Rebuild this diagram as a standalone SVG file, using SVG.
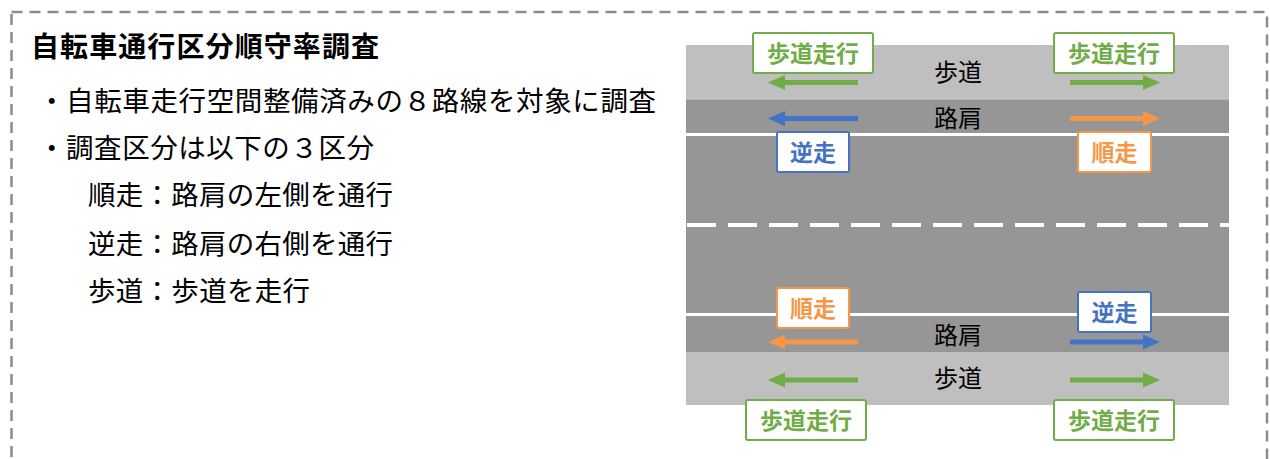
<svg xmlns="http://www.w3.org/2000/svg" width="1270" height="459" viewBox="0 0 1270 459">
  <defs>
    <style>
      text { font-family: "Noto Sans CJK JP", "Noto Sans", sans-serif; }
      .body { font-size: 27.5px; fill: #000; }
      .title { font-size: 28px; font-weight: 700; fill: #000; }
      .road { font-size: 24px; fill: #000; text-anchor: middle; }
      .lbl { font-size: 23px; font-weight: 700; text-anchor: middle; }
      .box { fill: #fff; stroke-width: 2; }
      .g { stroke: #70ad47; }
      .b { stroke: #4472c4; }
      .o { stroke: #f79646; }
      .tg { fill: #70ad47; }
      .tb { fill: #4472c4; }
      .to { fill: #f79646; }
      .arr { stroke-width: 5; fill: none; }
    </style>
    <marker id="mG" markerUnits="userSpaceOnUse" markerWidth="18" markerHeight="16" refX="0" refY="7.5" orient="auto" viewBox="0 0 18 15">
      <path d="M0,0 L17,7.5 L0,15 Z" fill="#70ad47"/>
    </marker>
    <marker id="mB" markerUnits="userSpaceOnUse" markerWidth="18" markerHeight="16" refX="0" refY="7.5" orient="auto" viewBox="0 0 18 15">
      <path d="M0,0 L17,7.5 L0,15 Z" fill="#4472c4"/>
    </marker>
    <marker id="mO" markerUnits="userSpaceOnUse" markerWidth="18" markerHeight="16" refX="0" refY="7.5" orient="auto" viewBox="0 0 18 15">
      <path d="M0,0 L17,7.5 L0,15 Z" fill="#f79646"/>
    </marker>
  </defs>

  <rect width="1270" height="459" fill="#fff"/>

  <!-- outer dashed frame -->
  <rect id="frame" x="11.5" y="12" width="1255.5" height="470" fill="none" stroke="#8c8c8c" stroke-width="2.5" stroke-dasharray="11 7"/>

  <!-- left text -->
  <g id="description">
    <text class="title" x="31" y="57" textLength="348" lengthAdjust="spacing">自転車通行区分順守率調査</text>
    <text class="body" x="38" y="111" textLength="618" lengthAdjust="spacing">・自転車走行空間整備済みの８路線を対象に調査</text>
    <text class="body" x="38" y="158" textLength="336" lengthAdjust="spacing">・調査区分は以下の３区分</text>
    <text class="body" x="88" y="205" textLength="305" lengthAdjust="spacing">順走：路肩の左側を通行</text>
    <text class="body" x="88" y="254" textLength="305" lengthAdjust="spacing">逆走：路肩の右側を通行</text>
    <text class="body" x="88" y="301" textLength="222" lengthAdjust="spacing">歩道：歩道を走行</text>
  </g>

  <!-- road -->
  <g id="road">
    <rect x="686" y="45" width="543" height="54" fill="#bfbfbf"/>
    <rect x="686" y="99" width="543" height="253" fill="#969696"/>
    <rect x="686" y="352" width="543" height="53" fill="#bfbfbf"/>
    <rect x="686" y="98.5" width="543" height="1" fill="#d0d0d0"/>
    <rect x="686" y="133" width="543" height="3" fill="#fff"/>
    <rect x="686" y="313" width="543" height="3" fill="#fff"/>
    <line x1="687" y1="225" x2="1229" y2="225" stroke="#fff" stroke-width="4" stroke-dasharray="29 12"/>
    <text class="road" x="958" y="81">歩道</text>
    <text class="road" x="958" y="127">路肩</text>
    <text class="road" x="958" y="344">路肩</text>
    <text class="road" x="958" y="387">歩道</text>
  </g>

  <!-- connectors (arrows) -->
  <g id="connectors">
    <line class="arr g" x1="858" y1="82.5" x2="785" y2="82.5" marker-end="url(#mG)"/>
    <line class="arr g" x1="1070" y1="82.5" x2="1143" y2="82.5" marker-end="url(#mG)"/>
    <line class="arr b" x1="858" y1="118.5" x2="785" y2="118.5" marker-end="url(#mB)"/>
    <line class="arr o" x1="1070" y1="118.5" x2="1143" y2="118.5" marker-end="url(#mO)"/>
    <line class="arr o" x1="858" y1="342" x2="785" y2="342" marker-end="url(#mO)"/>
    <line class="arr b" x1="1070" y1="342" x2="1143" y2="342" marker-end="url(#mB)"/>
    <line class="arr g" x1="858" y1="380" x2="785" y2="380" marker-end="url(#mG)"/>
    <line class="arr g" x1="1070" y1="380" x2="1143" y2="380" marker-end="url(#mG)"/>
  </g>

  <!-- label nodes -->
  <g id="sidewalk-top-left">
    <rect class="box g" x="753" y="33" width="120" height="40" rx="2"/>
    <text class="lbl tg" x="813" y="61.5">歩道走行</text>
  </g>
  <g id="sidewalk-top-right">
    <rect class="box g" x="1054" y="33" width="120" height="40" rx="2"/>
    <text class="lbl tg" x="1114" y="61.5">歩道走行</text>
  </g>
  <g id="reverse-top">
    <rect class="box b" x="777" y="132" width="72" height="40" rx="2"/>
    <text class="lbl tb" x="813" y="160.5">逆走</text>
  </g>
  <g id="forward-top">
    <rect class="box o" x="1078" y="132" width="73" height="40" rx="2"/>
    <text class="lbl to" x="1114.5" y="160.5">順走</text>
  </g>
  <g id="forward-bottom">
    <rect class="box o" x="777" y="288" width="72" height="40" rx="2"/>
    <text class="lbl to" x="813" y="316.5">順走</text>
  </g>
  <g id="reverse-bottom">
    <rect class="box b" x="1078" y="292" width="73" height="40" rx="2"/>
    <text class="lbl tb" x="1114.5" y="320.5">逆走</text>
  </g>
  <g id="sidewalk-bottom-left">
    <rect class="box g" x="746" y="400" width="120" height="40" rx="2"/>
    <text class="lbl tg" x="806" y="428.5">歩道走行</text>
  </g>
  <g id="sidewalk-bottom-right">
    <rect class="box g" x="1054" y="400" width="120" height="40" rx="2"/>
    <text class="lbl tg" x="1114" y="428.5">歩道走行</text>
  </g>
</svg>
